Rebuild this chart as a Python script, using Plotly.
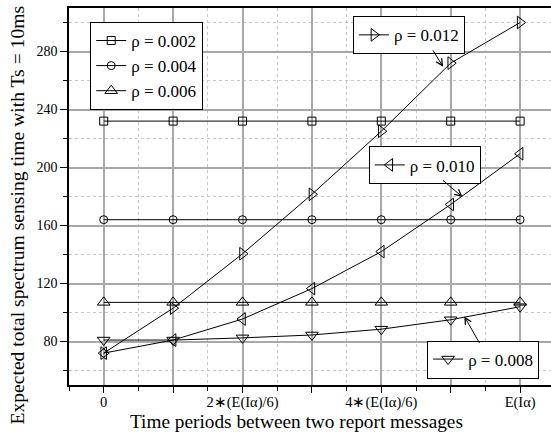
import plotly.graph_objects as go

x_vals = [0, 1, 2, 3, 4, 5, 6]
x_ticktext = ["0", "", "2∗(E(Iα)/6)", "", "4∗(E(Iα)/6)", "", "E(Iα)"]

rho_002 = [232, 232, 232, 232, 232, 232, 232]
rho_004 = [164, 164, 164, 164, 164, 164, 164]
rho_006 = [107, 107, 107, 107, 107, 107, 107]
rho_008 = [81, 81, 82.5, 84.5, 88.5, 95, 104]
rho_010 = [72, 81, 95.5, 116.5, 142, 174.5, 209.5]
rho_012 = [72, 103, 140.5, 181.5, 225, 272, 300]

FONT = "Liberation Serif"

series = [
    ("ρ = 0.002", rho_002, "square-open", 8, "legend"),
    ("ρ = 0.004", rho_004, "circle-open", 8, "legend"),
    ("ρ = 0.006", rho_006, "triangle-up-open", 11, "legend"),
    ("ρ = 0.008", rho_008, "triangle-down-open", 11, "legend4"),
    ("ρ = 0.010", rho_010, "triangle-left-open", 11, "legend3"),
    ("ρ = 0.012", rho_012, "triangle-right-open", 11, "legend2"),
]

fig = go.Figure()
for name, ys, sym, sz, lg in series:
    fig.add_trace(go.Scatter(
        x=x_vals, y=ys, name=name, mode="lines+markers",
        line=dict(color="black", width=1),
        marker=dict(symbol=sym, size=sz, color="black", line=dict(width=1, color="black")),
        legend=lg,
    ))

legend_common = dict(
    bgcolor="white", bordercolor="black", borderwidth=1,
    font=dict(family=FONT, size=17, color="black"),
    xanchor="left", yanchor="top", tracegroupgap=0,
)

fig.update_layout(
    width=551, height=442,
    margin=dict(l=69, r=0, t=8, b=57),
    plot_bgcolor="white", paper_bgcolor="white",
    font=dict(family=FONT, size=16, color="black"),
    legend=dict(x=0.044, y=0.963, **legend_common),
    legend2=dict(x=0.589, y=0.978, **legend_common),
    legend3=dict(x=0.622, y=0.633, **legend_common),
    legend4=dict(x=0.743, y=0.118, **legend_common),
    showlegend=True,
)

fig.update_xaxes(
    range=[-0.5, 6.445],
    tickmode="array", tickvals=x_vals, ticktext=x_ticktext,
    ticks="outside", ticklen=6, tickcolor="black", tickwidth=1,
    ticklabelstandoff=-3,
    showline=True, linecolor="black", linewidth=1.5, mirror=True,
    showgrid=True, gridcolor="#a8a8a8", gridwidth=1.5,
    minor=dict(dtick=0.5, tick0=0.5, ticks="outside", ticklen=4, tickcolor="black",
               showgrid=True, gridcolor="#c8c8c8", griddash="dot", gridwidth=1),
    tickfont=dict(family=FONT, size=14.5),
    zeroline=False,
)
fig.update_yaxes(
    range=[50, 310],
    tickmode="linear", tick0=0, dtick=40,
    ticks="outside", ticklen=7, tickcolor="black", tickwidth=1,
    showline=True, linecolor="black", linewidth=1.5, mirror=False,
    showgrid=True, gridcolor="#a8a8a8", gridwidth=1.5,
    minor=dict(dtick=20, tick0=0, ticks="outside", ticklen=4, tickcolor="black",
               showgrid=True, gridcolor="#c8c8c8", griddash="dot", gridwidth=1),
    tickfont=dict(family=FONT, size=14),
    zeroline=False,
)

# axis titles
fig.add_annotation(text="Time periods between two report messages", xref="paper", yref="paper",
                   x=(296 - 69) / 482, y=-(421 - 385) / 377, showarrow=False,
                   font=dict(family=FONT, size=19.3), xanchor="center", yanchor="middle")
fig.add_annotation(text="Expected total spectrum sensing time with Ts = 10ms", xref="paper", yref="paper",
                   x=-(69 - 17) / 482, y=(385 - 215.5) / 377, showarrow=False, textangle=-90,
                   font=dict(family=FONT, size=19.6), xanchor="center", yanchor="middle")

# pointer arrows from labels to curves
arrows = [(4.89, 269.4, -11, -18), (5.17, 179.6, -21, -18), (5.196, 97.3, 16, 28)]
for ax_x, ax_y, dx, dy in arrows:
    fig.add_annotation(x=ax_x, y=ax_y, xref="x", yref="y", ax=dx, ay=dy,
                       showarrow=True, arrowhead=5, arrowsize=1.3, arrowwidth=1, arrowcolor="black", text="")

fig.write_html("out.html")
